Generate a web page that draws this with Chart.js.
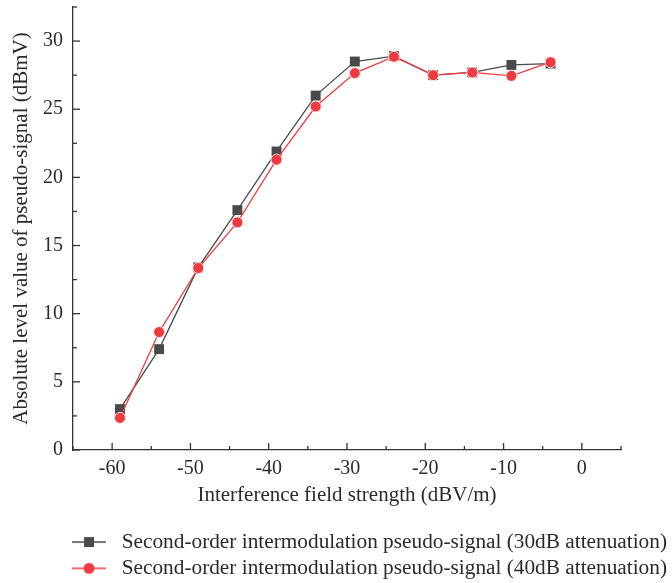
<!DOCTYPE html>
<html>
<head>
<meta charset="utf-8">
<script src="https://cdn.jsdelivr.net/npm/chart.js@4/dist/chart.umd.min.js"></script>
<style>
  html, body { margin: 0; padding: 0; background: #fff; }
  #wrap { width: 672px; height: 583px; }
</style>
</head>
<body>
<div id="wrap"><canvas id="chart" width="672" height="583"></canvas></div>
<script>
// field strength (dBV/m)
const fieldStrength = [-59, -54, -49, -44, -39, -34, -29, -24, -19, -14, -9, -4];
// pseudo-signal level (dBmV)
const att30 = [3.0, 7.4, 13.4, 17.6, 21.9, 26.0, 28.5, 28.9, 27.5, 27.7, 28.25, 28.35];
const att40 = [2.35, 8.65, 13.35, 16.7, 21.3, 25.2, 27.65, 28.85, 27.5, 27.7, 27.45, 28.45];
const seriesNames = [
    'Second-order intermodulation pseudo-signal (30dB attenuation)',
    'Second-order intermodulation pseudo-signal (40dB attenuation)'
];
const xLabels = [-60, -50, -40, -30, -20, -10, 0];
const yLabels = [0, 5, 10, 15, 20, 25, 30];

const GRAY = '#4a4a4a';
const RED = '#ee3b41';
const FONT = "'Liberation Serif', 'DejaVu Serif', serif";
const TEXT = '#2b2b2b';
const PLOT_BOTTOM = 450;
const PAD_BOTTOM = -6;

function toPoints(ys) {
    return fieldStrength.map((x, i) => ({ x: x, y: ys[i] }));
}

// small line+marker icons for the legend
function legendIcon(color, marker) {
    const c = document.createElement('canvas');
    c.width = 34; c.height = 14;
    const g = c.getContext('2d');
    g.strokeStyle = color;
    g.lineWidth = 1.3;
    g.beginPath(); g.moveTo(0, 7); g.lineTo(34, 7); g.stroke();
    g.fillStyle = color;
    if (marker === 'rect') {
        g.fillRect(12, 2, 10, 10);
    } else {
        g.beginPath(); g.arc(17, 7, 5.5, 0, Math.PI * 2); g.fill();
    }
    return c;
}
const icons = [legendIcon(GRAY, 'rect'), legendIcon(RED, 'circle')];

// inward tick marks, major where a label is shown
const insideTicks = {
    id: 'insideTicks',
    afterDraw(chart) {
        const ctx = chart.ctx;
        const xs = chart.scales.x, ys = chart.scales.y;
        ctx.save();
        ctx.strokeStyle = '#333';
        ctx.lineWidth = 1.3;
        xs.ticks.forEach(t => {
            const px = xs.getPixelForValue(t.value);
            const len = xLabels.includes(t.value) ? 7 : 4;
            ctx.beginPath();
            ctx.moveTo(px, xs.top);
            ctx.lineTo(px, xs.top - len);
            ctx.stroke();
        });
        ys.ticks.forEach(t => {
            const py = ys.getPixelForValue(t.value);
            const len = yLabels.includes(t.value) ? 7 : 4;
            ctx.beginPath();
            ctx.moveTo(ys.right, py);
            ctx.lineTo(ys.right + len, py);
            ctx.stroke();
        });
        ctx.restore();
    }
};

new Chart(document.getElementById('chart').getContext('2d'), {
    type: 'line',
    data: {
        datasets: [{
            label: seriesNames[0],
            data: toPoints(att30),
            borderColor: GRAY,
            backgroundColor: GRAY,
            borderWidth: 1.3,
            pointStyle: 'rect',
            pointRadius: 7,
            pointBorderWidth: 0,
            pointBackgroundColor: GRAY,
            tension: 0,
            order: 0
        }, {
            label: seriesNames[1],
            data: toPoints(att40),
            borderColor: RED,
            backgroundColor: RED,
            borderWidth: 1.3,
            pointStyle: 'circle',
            pointRadius: 5.5,
            pointBorderWidth: 1,
            pointBorderColor: 'rgba(255,235,235,0.9)',
            pointBackgroundColor: RED,
            tension: 0,
            order: -1
        }]
    },
    options: {
        responsive: false,
        animation: false,
        layout: { padding: { top: 7, right: 0, bottom: PAD_BOTTOM, left: 0 } },
        plugins: {
            tooltip: { enabled: false },
            legend: {
                position: 'bottom',
                align: 'end',
                labels: {
                    usePointStyle: true,
                    pointStyleWidth: 44,
                    padding: 5,
                    color: TEXT,
                    font: { family: FONT, size: 21.3 },
                    sort: (a, b) => a.datasetIndex - b.datasetIndex,
                    generateLabels(chart) {
                        const items = Chart.defaults.plugins.legend.labels.generateLabels(chart);
                        items.forEach(it => { it.pointStyle = icons[it.datasetIndex]; });
                        return items;
                    }
                }
            }
        },
        scales: {
            x: {
                type: 'linear',
                min: -65,
                max: 5,
                grid: { display: false, drawTicks: false },
                border: { display: true, color: '#333', width: 1.3 },
                ticks: {
                    stepSize: 5,
                    padding: 7,
                    maxRotation: 0,
                    autoSkip: false,
                    color: TEXT,
                    font: { family: FONT, size: 20 },
                    callback: v => xLabels.includes(v) ? String(v) : ''
                },
                title: {
                    display: true,
                    text: 'Interference field strength (dBV/m)',
                    color: TEXT,
                    font: { family: FONT, size: 21 },
                    padding: { top: 0, bottom: 18 }
                },
                afterFit: s => {
                    s.height = s.chart.height - PAD_BOTTOM - PLOT_BOTTOM - s.chart.legend.height;
                    s.paddingLeft = 0;
                    s.paddingRight = 51;
                }
            },
            y: {
                min: 0,
                max: 32.5,
                grid: { display: false, drawTicks: false },
                border: { display: true, color: '#333', width: 1.3 },
                ticks: {
                    stepSize: 2.5,
                    padding: 10,
                    autoSkip: false,
                    color: TEXT,
                    font: { family: FONT, size: 20 },
                    callback: v => yLabels.includes(v) ? String(v) : ''
                },
                title: {
                    display: true,
                    text: 'Absolute level value of pseudo-signal (dBmV)',
                    color: TEXT,
                    font: { family: FONT, size: 21 },
                    padding: { top: 9, bottom: 0 }
                },
                afterFit: s => {
                    s.width = 73;
                    s.paddingTop = 0;
                    s.paddingBottom = 0;
                }
            }
        }
    },
    plugins: [insideTicks]
});
</script>
</body>
</html>
